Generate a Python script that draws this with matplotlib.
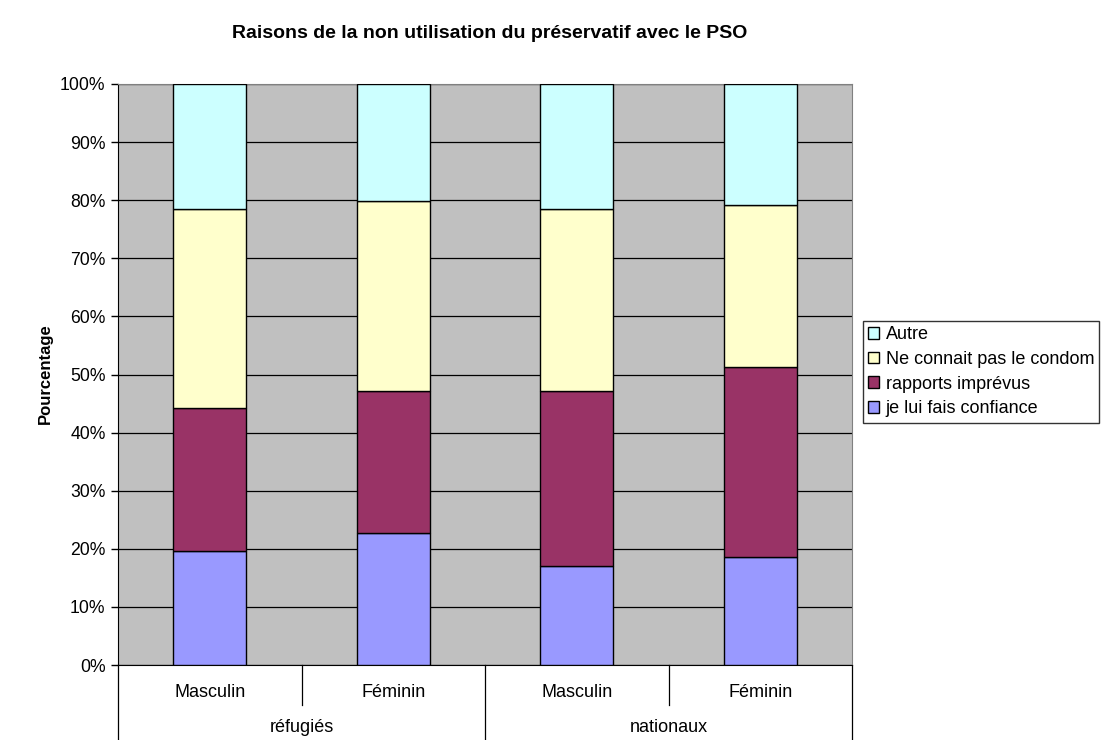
import numpy as np
import matplotlib
matplotlib.use('Agg')
import matplotlib.pyplot as plt
from matplotlib.patches import Patch

plt.rcParams['font.family'] = ['Liberation Sans', 'DejaVu Sans']

groups = ['réfugiés', 'nationaux']
sexes = ['Masculin', 'Féminin', 'Masculin', 'Féminin']
series = ['je lui fais confiance', 'rapports imprévus', 'Ne connait pas le condom', 'Autre']
confiance = [19.7, 22.8, 17.1, 18.6]
imprevus = [24.6, 24.3, 30.1, 32.7]
condom = [34.2, 32.8, 31.3, 27.8]
autre = [21.5, 20.1, 21.5, 20.9]
colors = ['#9999FF', '#993366', '#FFFFCC', '#CCFFFF']

fig = plt.figure(figsize=(11.03, 7.4), dpi=100)
ax = fig.add_axes([118 / 1103, 1 - 665 / 740, 734 / 1103, 581 / 740])
ax.set_facecolor('#C0C0C0')

x = np.arange(len(sexes))
bottom = np.zeros(len(sexes))
for vals, col in zip([confiance, imprevus, condom, autre], colors):
    ax.bar(x, vals, 0.4, bottom=bottom, color=col, edgecolor='black', linewidth=1, zorder=3)
    bottom += np.array(vals)

ax.set_xlim(-0.5, 3.5)
ax.set_ylim(0, 100)
ax.set_yticks(np.arange(0, 101, 10))
ax.set_yticklabels(['%d%%' % v for v in range(0, 101, 10)], fontsize=12.7)
ax.yaxis.grid(True, color='black', linewidth=0.9, zorder=1)
ax.set_axisbelow(True)
ax.tick_params(axis='y', direction='out', length=5, width=1, color='black', pad=4)
ax.set_xticks([])
for s in ['top', 'right']:
    ax.spines[s].set_color('#808080')
ax.spines['left'].set_color('black')
ax.spines['bottom'].set_color('black')

# two-level category axis
tr = ax.get_xaxis_transform()
for i, s in enumerate(sexes):
    ax.text(i, -0.0465, s, transform=tr, ha='center', va='center', fontsize=13)
for j, g in enumerate(groups):
    ax.text(2 * j + 0.5, -0.108, g, transform=tr, ha='center', va='center', fontsize=13)
for b in np.arange(-0.5, 3.6, 1.0):
    long_line = int(round(b + 0.5)) % 2 == 0
    y_end = -0.13 if long_line else -0.069
    ax.plot([b, b], [0, y_end], transform=tr, color='black', linewidth=0.9, clip_on=False)

fig.text(45 / 1103, 1 - 374 / 740, 'Pourcentage', rotation=90, ha='center', va='center',
         fontsize=12, fontweight='bold')

fig.text(490 / 1103, 1 - 33 / 740, 'Raisons de la non utilisation du préservatif avec le PSO',
         ha='center', va='center', fontsize=14, fontweight='bold')

handles = [Patch(facecolor=c, edgecolor='black', linewidth=1) for c in colors[::-1]]
leg = fig.legend(handles, series[::-1], loc='upper left', bbox_to_anchor=(863 / 1103, 1 - 321 / 740),
                 fontsize=13, frameon=True, fancybox=False, handlelength=0.6, handleheight=0.6,
                 handletextpad=0.35, labelspacing=0.42, borderpad=0.3, borderaxespad=0)
leg.get_frame().set_edgecolor('black')
leg.get_frame().set_linewidth(1)

fig.savefig('out.png', dpi=100)
